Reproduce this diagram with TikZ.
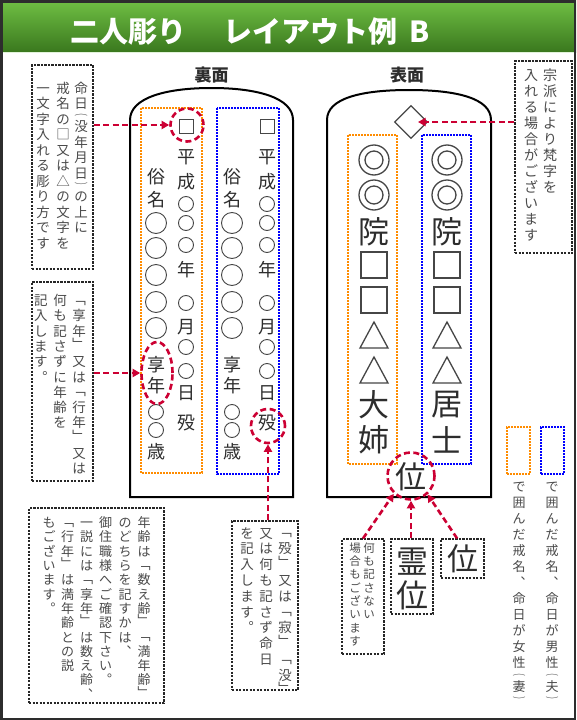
\documentclass[tikz,border=0pt]{standalone}
\usepackage{fontspec}
\usepackage{graphicx}
\usetikzlibrary{shapes.geometric,arrows.meta}
\newfontfamily\jp{Noto Sans CJK JP}
\definecolor{redc}{RGB}{204,0,51}
\definecolor{tabc}{RGB}{45,45,45}
\definecolor{tabs}{RGB}{70,70,70}
\definecolor{annc}{RGB}{75,75,75}
\definecolor{orc}{RGB}{255,140,0}
\definecolor{blc}{RGB}{0,0,255}
\definecolor{gtop}{RGB}{112,192,68}
\definecolor{gbot}{RGB}{58,120,30}
\definecolor{framec}{RGB}{45,45,45}
% vertical text machinery
\newdimen\vgap
\def\vtendmark{}
\def\vtend{\vtendmark}
\def\vtxt#1{\vbox{\offinterlineskip\vtloop#1\vtend}}
\def\vtloop#1{\ifx#1\vtend\else\ifcat\relax\noexpand#1#1\else\vtfull{#1}\fi\expandafter\vtloop\fi}
\def\vtfull#1{\vbox to 1em{\vss\hbox to 1em{\hss\vrule height .88em depth .12em width 0pt\relax#1\hss}\vss}\kern\vgap}
\def\vtlow#1{\vbox to 1em{\vskip .4em plus 1fil minus 1fil\hbox to 1em{\hss#1\hss}\vskip 0pt plus 1fil minus 1fil}\kern\vgap}
\def\vthigh#1{\vbox to 1em{\vskip 0pt plus 1fil minus 1fil\hbox to 1em{\hss#1\hss}\vskip .4em plus 1fil minus 1fil}\kern\vgap}
\def\vthalf#1{\vbox to .5em{\vss\hbox to 1em{\hss#1\hss}\vss}\kern.5\vgap}
\def\vLB{\vtlow{﹁}}
\def\vRB{\vthigh{﹂}}
\def\vLP{\vthalf{\scalebox{1}[.5]{︵}}}
\def\vRP{\vthalf{\scalebox{1}[.5]{︶}}}
\def\vTEN{\vtfull{︑}}
\def\vMARU{\vtfull{︒}}
\newcommand\vcol[6]{\node[vt,font={\jp\fontsize{#4pt}{#4pt}\selectfont}] (#1) at (#2,#3) {\vgap=#5pt\relax\vtxt{#6}};}
\newcount\tgn
\newcommand\tglyph[4]{\global\advance\tgn by 1\relax\node[#1] (tg\the\tgn) at (#2,#3) {#4};}
\begin{document}
\begin{tikzpicture}[x=1pt,y=-1pt,
  vt/.style={inner sep=0,anchor=north,text=annc},
  tgs/.style={inner sep=0,text=tabc,font=\jp\fontsize{18pt}{18pt}\selectfont},
  tgl/.style={inner sep=0,text=tabc,font=\jp\fontsize{31pt}{31pt}\selectfont},
  lab/.style={inner sep=0,text=tabc,font=\jp\bfseries\fontsize{17pt}{17pt}\selectfont},
  tsh/.style={draw=tabs,line width=.9},
  tshl/.style={draw=tabs,line width=1.3},
  tablet/.style={draw=black,line width=2},
  orb/.style={draw=orc,line width=1.3,dash pattern=on 1.6pt off 1.4pt},
  blb/.style={draw=blc,line width=1.3,dash pattern=on 1.6pt off 1.4pt},
  annbox/.style={draw=black!85,line width=1.1,dash pattern=on 2.2pt off 1.3pt,inner sep=0},
  redcirc/.style={draw=redc,line width=2.6,dash pattern=on 6pt off 3.5pt,inner sep=0},
  redarr/.style={draw=redc,line width=2.6,dash pattern=on 6pt off 3.5pt,-{Triangle[length=7.5pt,width=8pt]}}
]
\useasboundingbox (0,0) rectangle (576,720);
\fill[white] (0,0) rectangle (576,720);
% title bar
\shade[top color=gtop,bottom color=gbot] (0,0) rectangle (576,52);
\draw[white!80!gtop,line width=1] (0,52.5) -- (576,52.5);
\node[anchor=west,inner sep=0,text=white,font=\jp\bfseries\fontsize{29pt}{29pt}\selectfont] (title) at (70,31) {\vrule height .88em depth .12em width 0pt 二人彫り\hspace{37pt}レイアウト例\hspace{12pt}B};
\draw[framec,line width=2.5] (1.25,1.25) rectangle (574.75,718.75);
% labels
\node[lab] (labUra) at (211.5,75) {裏面};
\node[lab] (labOmote) at (407,75) {表面};
% tablets
\draw[tablet] (130,497) -- (130,120) .. controls (130,98) and (165,88) .. (211.5,88) .. controls (258,88) and (293,98) .. (293,120) -- (293,497) -- cycle;
\draw[tablet] (327,497) -- (327,120) .. controls (327,98) and (362,90) .. (409,90) .. controls (456,90) and (491,98) .. (491,120) -- (491,497) -- cycle;
% column frames
\draw[orb] (141,108) rectangle (202,473);
\draw[blb] (217,108) rectangle (279,474);
\draw[orb] (348,135) rectangle (397,464);
\draw[blb] (422,135) rectangle (471,464);
% back side (ura) contents
\foreach \x in {186,267}{
  \draw[tsh] (\x,126) ++(-7,-7) rectangle ++(14,14);
  \foreach \y in {204,223,245,303,347,371} \draw[tsh] (\x,\y) circle[radius=7.5pt];
  \foreach \y/\c in {157/平,182/成,270/年,327/月,393/日,423/殁} {\tglyph{tgs}{\x}{\y}{\c}}
}
\foreach \x in {156,232}{
  \foreach \y in {223,248,275,302,328} \draw[tsh] (\x,\y) circle[radius=10.5pt];
  \foreach \y in {412,430} \draw[tsh] (\x,\y) circle[radius=7.5pt];
  \foreach \y/\c in {177/俗,200/名,365/享,386/年,452/歳} {\tglyph{tgs}{\x}{\y}{\c}}
}
% front side (omote) contents
\node[diamond,draw=tabs,line width=1.2,minimum width=33,minimum height=33,inner sep=0] (dia) at (411,122) {};
\foreach \x in {374,447}{
  \foreach \y in {160,195} {\draw[tshl] (\x,\y) circle[radius=15pt]; \draw[tshl] (\x,\y) circle[radius=9pt];}
  \tglyph{tgl}{\x}{232}{院}
  \foreach \y in {265,300} \draw[tshl] (\x,\y) ++(-13,-13) rectangle ++(26,26);
  \foreach \y in {335,370} \draw[tshl] (\x,\y-13) -- (\x+14,\y+13) -- (\x-14,\y+13) -- cycle;
}
\tglyph{tgl}{374}{405}{大}
\tglyph{tgl}{374}{440}{姉}
\tglyph{tgl}{447}{405}{居}
\tglyph{tgl}{447}{440}{士}
\node[tgl] (kurai) at (411,477) {位};
% red circles
\node[redcirc,circle,minimum size=33] (rcSq) at (187,125) {};
\node[redcirc,ellipse,minimum width=31,minimum height=62] (rcEll) at (157,373) {};
\node[redcirc,circle,minimum size=34] (rcBotsu) at (268,426) {};
\node[redcirc,circle,minimum size=47] (rcI) at (411,476) {};
% annotation boxes
\node[annbox,minimum width=61,minimum height=204] (boxA) at (62.5,167) {};
\node[annbox,minimum width=61,minimum height=199] (boxB) at (62.5,381.5) {};
\node[annbox,minimum width=57,minimum height=192] (boxC) at (543.5,157) {};
\node[annbox,minimum width=135,minimum height=195] (boxD) at (96.5,605.5) {};
\node[annbox,minimum width=66,minimum height=169] (boxE) at (265,605.5) {};
\node[annbox,minimum width=42,minimum height=115] (boxF) at (363,596.5) {};
\node[annbox,minimum width=42,minimum height=75] (boxG) at (412,576.5) {};
\node[annbox,minimum width=43,minimum height=39] (boxH) at (462.5,558.5) {};
% annotation texts
\vcol{A1}{81}{81}{13.5}{2}{命日\vLP 没年月日\vRP の上に}
\vcol{A2}{63}{81}{13.5}{2}{戒名の□又は△の文字を}
\vcol{A3}{43}{81}{13.5}{2}{一文字入れる彫り方です}
\vcol{B1}{79}{293.5}{13.5}{1.8}{\vLB 享年\vRB 又は\vLB 行年\vRB 又は}
\vcol{B2}{60}{293.5}{13.5}{1.8}{何も記さずに年齢を}
\vcol{B3}{41}{293.5}{13.5}{1.8}{記入します\vMARU}
\vcol{C1}{550}{68}{14}{2}{宗派により梵字を}
\vcol{C2}{531}{68}{14}{2}{入れる場合がございます}
\vcol{D1}{144}{516}{13}{1.3}{年齢は\vLB 数え齢\vRB \vLB 満年齢\vRB}
\vcol{D2}{125}{516}{13}{1.3}{のどちらを記すかは\vTEN}
\vcol{D3}{105.5}{516}{13}{1.3}{御住職様へご確認下さい\vMARU}
\vcol{D4}{86.5}{516}{13}{1.3}{一説には\vLB 享年\vRB は数え齢\vTEN}
\vcol{D5}{67.5}{516}{13}{1.3}{\vLB 行年\vRB は満年齢との説}
\vcol{D6}{49}{516}{13}{1.3}{もございます\vMARU}
\vcol{E1}{285}{526}{13.5}{2.3}{\vLB 殁\vRB 又は\vLB 寂\vRB \vLB 没\vRB}
\vcol{E2}{266}{526}{13.5}{2.3}{又は何も記さず命日}
\vcol{E3}{247}{526}{13.5}{2.3}{を記入します\vMARU}
\vcol{F1}{369}{542}{11.5}{1.8}{何も記さない}
\vcol{F2}{355}{542}{11.5}{1.8}{場合もございます}
\node[tgl,font=\jp\fontsize{32pt}{32pt}\selectfont] (rei) at (412,562) {霊};
\node[tgl,font=\jp\fontsize{32pt}{32pt}\selectfont] (reii) at (412,595) {位};
\node[tgl] (iH) at (462.5,559) {位};
% legend
\node[orb,minimum width=23,minimum height=47,inner sep=0] (legO) at (518.5,450.5) {};
\node[blb,minimum width=23,minimum height=47,inner sep=0] (legB) at (552.5,450.5) {};
\vcol{L1}{519}{480}{13}{3}{で囲んだ戒名\vTEN 命日が女性\vLP 妻\vRP}
\vcol{L2}{552}{480}{13}{3}{で囲んだ戒名\vTEN 命日が男性\vLP 夫\vRP}
% red arrows
\draw[redarr] (boxA.east |- rcSq.west) -- (rcSq.west);
\draw[redarr] (boxB.east |- rcEll.west) -- (rcEll.west);
\draw[redarr,shorten >=7pt] (boxC.west |- dia.center) -- (dia.center);
\draw[redarr] (rcBotsu.south |- boxE.north) -- (rcBotsu.south);
\draw[redarr] (boxF.north) -- (rcI.226);
\draw[redarr] (rcI.south |- boxG.north) -- (rcI.south);
\draw[redarr] (boxH.105) -- (rcI.312);
\end{tikzpicture}
\end{document}
